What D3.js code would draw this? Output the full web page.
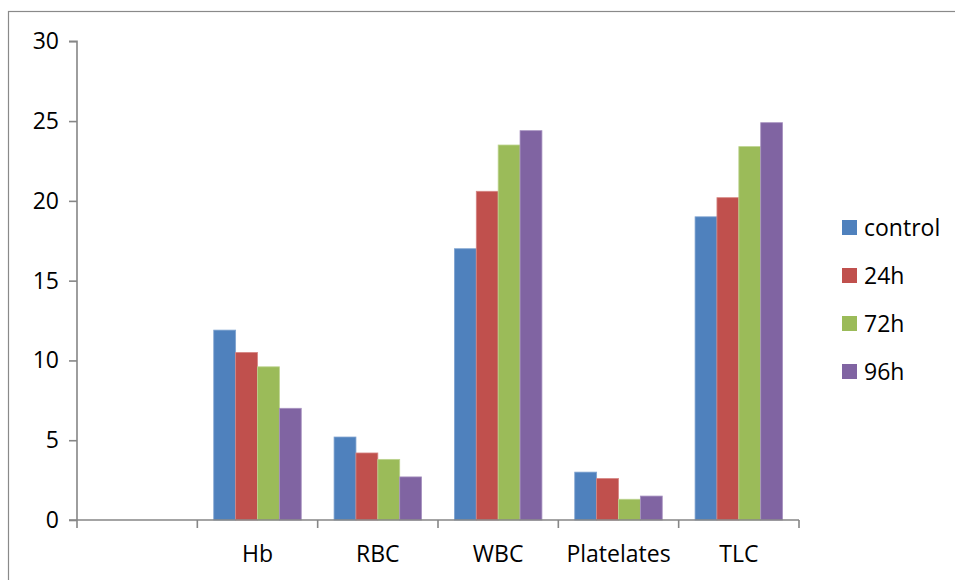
<!DOCTYPE html>
<html>
<head>
<meta charset="utf-8">
<script src="https://cdn.jsdelivr.net/npm/d3@7"></script>
<style>
  html, body { margin: 0; padding: 0; background: #fff; }
  svg { display: block; }
</style>
</head>
<body>
<div id="chart"></div>
<script>
const categories = ["", "Hb", "RBC", "WBC", "Platelates", "TLC"];
const seriesNames = ["control", "24h", "72h", "96h"];
const control = [null, 11.9, 5.2, 17.0, 3.0, 19.0];
const h24 = [null, 10.5, 4.2, 20.6, 2.6, 20.2];
const h72 = [null, 9.6, 3.8, 23.5, 1.3, 23.4];
const h96 = [null, 7.0, 2.7, 24.4, 1.5, 24.9];
const yTicks = [0, 5, 10, 15, 20, 25, 30];

const seriesValues = [control, h24, h72, h96];
const colors = ["#4f81bd", "#c0504d", "#9bbb59", "#8064a2"];
const edges = ["#7fa3d0", "#d68583", "#bcd38e", "#a792c0"];

const width = 955;
const height = 580;
const font = "'Open Sans', 'Liberation Sans', sans-serif";
const fontSize = "23px";
const axisColor = "#868686";

const svg = d3.select("#chart")
  .append("svg")
  .attr("width", width)
  .attr("height", height)
  .style("font-family", font);

// outer chart frame, runs past the right and bottom edges
svg.append("rect")
  .attr("x", 8.5)
  .attr("y", 11.5)
  .attr("width", 1000)
  .attr("height", 1000)
  .attr("fill", "#fff")
  .attr("stroke", "#8a8a8a")
  .attr("stroke-width", 1.2);

const x = d3.scaleBand().domain(categories.map((d, i) => i)).range([77, 799]).padding(0);
const xs = d3.scaleBand().domain(seriesNames).range([0, x.bandwidth()]).paddingInner(0).paddingOuter(0.75);
const y = d3.scaleLinear().domain([0, 30]).range([520, 41.3]);

const rows = categories.map((c, i) => ({ i, c, values: seriesNames.map((s, k) => ({ s, k, v: seriesValues[k][i] })) }));

const groups = svg.append("g")
  .selectAll("g")
  .data(rows)
  .join("g")
  .attr("transform", (d) => `translate(${x(d.i)},0)`);

groups.selectAll("rect")
  .data((d) => d.values.filter((e) => e.v != null))
  .join("rect")
  .attr("x", (d) => xs(d.s))
  .attr("y", (d) => y(d.v))
  .attr("width", xs.bandwidth())
  .attr("height", (d) => y(0) - y(d.v))
  .attr("fill", (d) => colors[d.k])
  .attr("stroke", (d) => edges[d.k])
  .attr("stroke-width", 0.8);

// y axis
const yAxis = svg.append("g")
  .attr("transform", "translate(77,0)")
  .call(d3.axisLeft(y).tickValues(yTicks).tickSize(8).tickPadding(10).tickFormat(d3.format("d")));
yAxis.select(".domain").attr("stroke", axisColor).attr("stroke-width", 1.6).attr("d", `M-8,${y(30)}H0V${y(0)}`);
yAxis.selectAll(".tick line").attr("stroke", axisColor).attr("stroke-width", 1.6);
yAxis.selectAll(".tick text")
  .attr("fill", "#000")
  .style("font-family", font)
  .style("font-size", fontSize);

// x axis, ticks at band edges
const xAxis = svg.append("g").attr("transform", `translate(0,${y(0)})`);
xAxis.append("line")
  .attr("x1", 69).attr("x2", 799)
  .attr("stroke", axisColor).attr("stroke-width", 1.6);
xAxis.selectAll("line.tk")
  .data(d3.range(categories.length + 1))
  .join("line")
  .attr("class", "tk")
  .attr("x1", (i) => 77 + i * x.step())
  .attr("x2", (i) => 77 + i * x.step())
  .attr("y1", 0).attr("y2", 8)
  .attr("stroke", axisColor).attr("stroke-width", 1.6);
xAxis.selectAll("text")
  .data(rows)
  .join("text")
  .attr("x", (d) => x(d.i) + x.bandwidth() / 2)
  .attr("y", 42)
  .attr("text-anchor", "middle")
  .attr("fill", "#000")
  .style("font-size", fontSize)
  .text((d) => d.c);

// legend
const legend = svg.append("g").attr("transform", "translate(842,0)");
const li = legend.selectAll("g")
  .data(seriesNames)
  .join("g")
  .attr("transform", (d, i) => `translate(0,${227.5 + i * 48})`);
li.append("rect")
  .attr("x", 0).attr("y", -7.5)
  .attr("width", 15).attr("height", 15)
  .attr("fill", (d, i) => colors[i]);
li.append("text")
  .attr("x", 22).attr("y", 8)
  .attr("fill", "#000")
  .style("font-size", fontSize)
  .text((d) => d);
</script>
</body>
</html>
